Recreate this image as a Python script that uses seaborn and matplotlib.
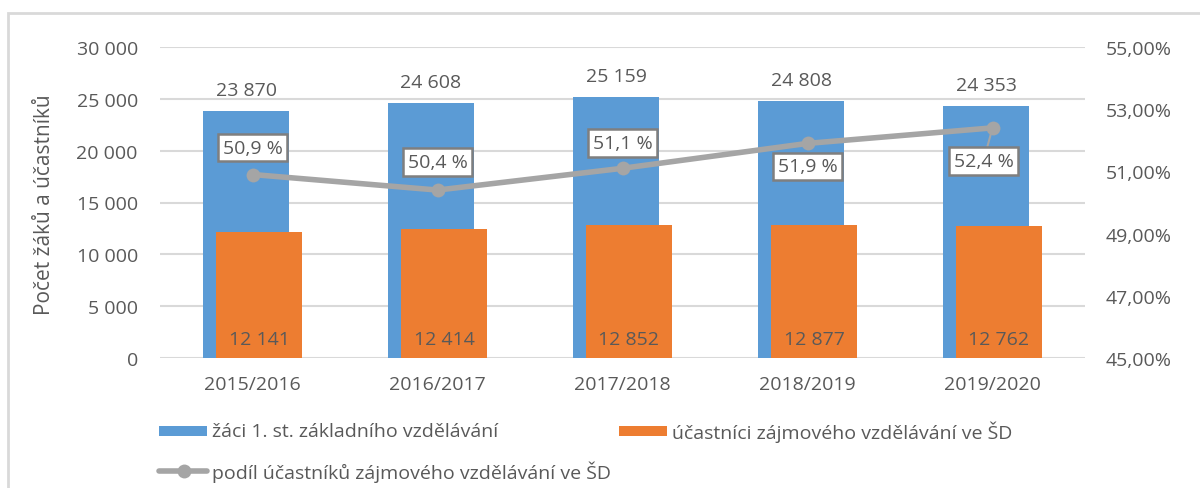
import matplotlib
matplotlib.use("Agg")
import matplotlib.pyplot as plt
from matplotlib.patches import Rectangle
from matplotlib.lines import Line2D
import seaborn as sns
import pandas as pd

# data
years = ['2015/2016', '2016/2017', '2017/2018', '2018/2019', '2019/2020']
zaci = [23870, 24608, 25159, 24808, 24353]
ucastnici = [12141, 12414, 12852, 12877, 12762]
podil = [50.9, 50.4, 51.1, 51.9, 52.4]

left_ticks = [0, 5000, 10000, 15000, 20000, 25000, 30000]
right_ticks = [45, 47, 49, 51, 53, 55]

label_zaci = 'žáci 1. st. základního vzdělávání'
label_ucast = 'účastníci zájmového vzdělávání ve ŠD'
label_podil = 'podíl účastníků zájmového vzdělávání ve ŠD'
ylabel = 'Počet žáků a účastníků'

BLUE = '#5B9BD5'
ORANGE = '#ED7D31'
GREY_LINE = '#A5A5A5'
TXT = '#595959'
GRID = '#D9D9D9'

sns.set_theme(style='white')
plt.rcParams['font.family'] = ['Open Sans', 'DejaVu Sans']
FS = 14

W, H = 1200, 489
fig = plt.figure(figsize=(W / 100, H / 100), dpi=100)
ax = fig.add_axes([160 / W, 1 - 359 / H, (1085 - 160) / W, (359 - 48) / H])

df = pd.DataFrame({'rok': years, 'zaci': zaci, 'ucastnici': ucastnici, 'podil': podil})

bw = 0.46
shift = 0.035
sns.barplot(data=df, x='rok', y='zaci', color=BLUE, width=bw, ax=ax,
            saturation=1, zorder=2)
n_blue = len(ax.patches)
sns.barplot(data=df, x='rok', y='ucastnici', color=ORANGE, width=bw, ax=ax,
            saturation=1, zorder=3)
for i, p in enumerate(ax.patches):
    p.set_x(p.get_x() + (-shift if i < n_blue else shift))
    p.set_linewidth(0)

ax.set_xlim(-0.5, len(years) - 0.5)
ax.set_ylim(0, 30000)
ax.set_yticks(left_ticks)
ax.set_yticklabels([f'{v:,}'.replace(',', ' ') for v in left_ticks])
ax.set_xlabel('')
ax.set_ylabel('')
ax.yaxis.grid(True, color=GRID, linewidth=1.5, zorder=0)
ax.set_axisbelow(True)
for s in ax.spines.values():
    s.set_visible(False)
ax.tick_params(axis='x', length=0, pad=12, labelcolor=TXT, labelsize=FS)
ax.tick_params(axis='y', length=0, pad=16, labelcolor=TXT, labelsize=FS)

for i, v in enumerate(zaci):
    ax.annotate(f'{v:,}'.replace(',', ' '), (i - shift, v), xytext=(0, 21),
                textcoords='offset pixels', ha='center', va='center',
                color=TXT, fontsize=FS)
for i, v in enumerate(ucastnici):
    ax.annotate(f'{v:,}'.replace(',', ' '), (i + shift, 0), xytext=(0, 19),
                textcoords='offset pixels', ha='center', va='center',
                color=TXT, fontsize=FS, zorder=5)

ax2 = ax.twinx()
ax2.set_ylim(45, 55)
ax2.set_yticks(right_ticks)
ax2.set_yticklabels([f'{v:.2f}%'.replace('.', ',') for v in right_ticks])
ax2.tick_params(axis='y', length=0, pad=15, labelcolor=TXT, labelsize=FS)
for s in ax2.spines.values():
    s.set_visible(False)
ax2.grid(False)
sns.lineplot(x=list(range(len(years))), y=podil, ax=ax2, color=GREY_LINE,
             linewidth=4, marker='o', markersize=10, markeredgewidth=0,
             zorder=4)

# percentage labels in boxes: (dx, dy) offsets in pixels
offsets = [(0, 27), (0, 28), (0, 25), (0, -23), (-9, -33)]
for i, (v, (dx, dy)) in enumerate(zip(podil, offsets)):
    arrow = None
    if i == 4:
        arrow = dict(arrowstyle='-', color=GREY_LINE, lw=1.5, shrinkA=0, shrinkB=4)
    ax2.annotate(f'{v:.1f} %'.replace('.', ','), (i, v), xytext=(dx, dy),
                 textcoords='offset pixels', ha='center', va='center',
                 color=TXT, fontsize=FS, zorder=6,
                 bbox=dict(boxstyle='square,pad=0.25', fc='white', ec='#7F7F7F', lw=1.8),
                 arrowprops=arrow)

fig.text(45 / W, 1 - 205 / H, ylabel, rotation=90, ha='center', va='center',
         color=TXT, fontsize=FS + 1)

# legend drawn by hand
fig.add_artist(Rectangle((159 / W, 1 - 437 / H), 48 / W, 10 / H,
                         transform=fig.transFigure, color=BLUE, lw=0))
fig.text(212 / W, 1 - 432 / H, label_zaci, ha='left', va='center', color=TXT, fontsize=FS)
fig.add_artist(Rectangle((619 / W, 1 - 437 / H), 48 / W, 10 / H,
                         transform=fig.transFigure, color=ORANGE, lw=0))
fig.text(672 / W, 1 - 432 / H, label_ucast, ha='left', va='center', color=TXT, fontsize=FS)
fig.add_artist(Line2D([159 / W, 207 / W], [1 - 472 / H, 1 - 472 / H],
                      transform=fig.transFigure, color=GREY_LINE, lw=4))
fig.add_artist(Line2D([184 / W], [1 - 472 / H], transform=fig.transFigure,
                      color=GREY_LINE, marker='o', markersize=10, markeredgewidth=0))
fig.text(212 / W, 1 - 472 / H, label_podil, ha='left', va='center', color=TXT, fontsize=FS)

# outer chart frame
fig.add_artist(Rectangle((8 / W, -0.1), 1.2, 1.1 - 14 / H, transform=fig.transFigure,
                         fill=False, ec=GRID, lw=2))

fig.savefig('out.png', dpi=100)
